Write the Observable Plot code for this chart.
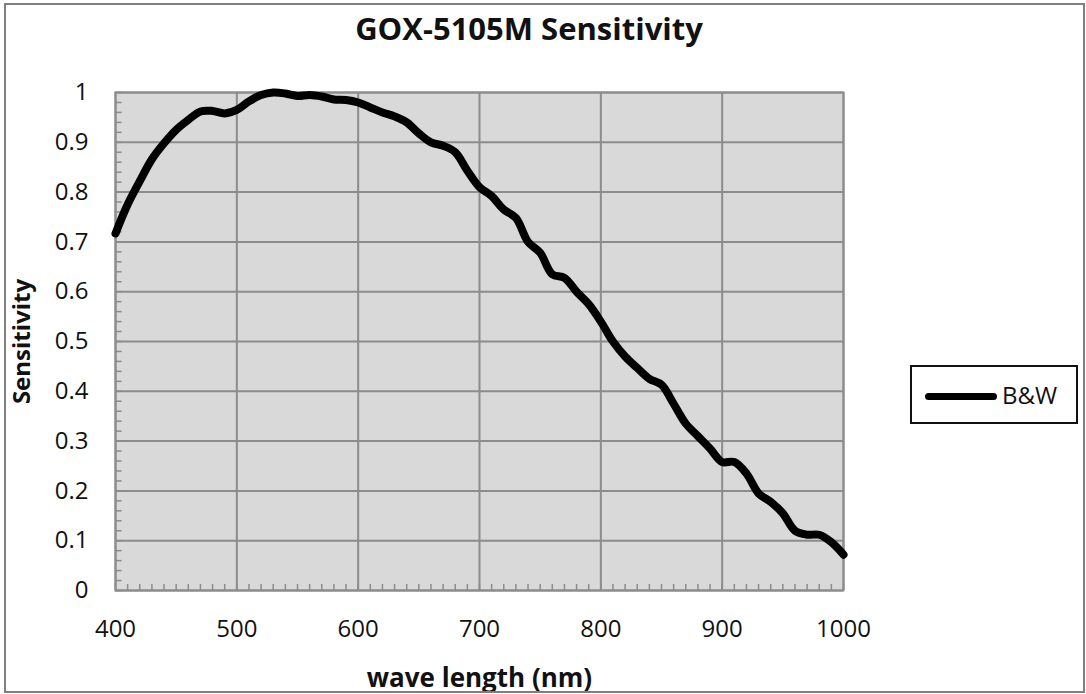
<!DOCTYPE html>
<html>
<head>
<meta charset="utf-8">
<script src="https://cdn.jsdelivr.net/npm/d3@7"></script>
<script src="https://cdn.jsdelivr.net/npm/@observablehq/plot@0.6"></script>
<style>
  html, body { margin: 0; padding: 0; background: #fff; }
  #wrap { position: relative; width: 1086px; height: 694px; overflow: hidden; font-family: "Open Sans", sans-serif; }
  #border { position: absolute; left: 4px; top: 3px; width: 1077px; height: 686px; border: 2px solid #7f7f7f; box-sizing: content-box; pointer-events: none; }
  #title { position: absolute; left: 0; width: 1058px; top: 7px; text-align: center; font-weight: bold; font-size: 31px; color: #111; }
  #legend { position: absolute; left: 910px; top: 365px; width: 168px; height: 59px; border: 2px solid #111; box-sizing: border-box; }
  #legend .sw { position: absolute; left: 13px; top: 26px; width: 72px; height: 7px; background: #000; border-radius: 3.5px; }
  #legend .lb { position: absolute; left: 90px; top: 11px; font-size: 24px; color: #111; }
  svg { position: absolute; left: 0; top: 0; }
</style>
</head>
<body>
<div id="wrap">
  <div id="title">GOX-5105M Sensitivity</div>
  <div id="chart"></div>
  <div id="legend"><div class="sw"></div><div class="lb">B&amp;W</div></div>
  <div id="border"></div>
</div>
<script>
const wavelength = [400,410,420,430,440,450,460,470,480,490,500,510,520,530,540,550,560,570,580,590,600,610,620,630,640,650,660,670,680,690,700,710,720,730,740,750,760,770,780,790,800,810,820,830,840,850,860,870,880,890,900,910,920,930,940,950,960,970,980,990,1000];
const sensitivity = [0.717,0.775,0.822,0.866,0.898,0.925,0.945,0.962,0.963,0.958,0.965,0.982,0.995,1.0,0.998,0.993,0.995,0.992,0.986,0.985,0.98,0.97,0.96,0.952,0.94,0.918,0.90,0.893,0.88,0.843,0.81,0.792,0.765,0.748,0.70,0.678,0.635,0.628,0.60,0.575,0.54,0.50,0.47,0.447,0.425,0.413,0.375,0.335,0.31,0.285,0.258,0.258,0.235,0.195,0.178,0.155,0.12,0.112,0.112,0.097,0.072];
const xTicks = [400,500,600,700,800,900,1000];
const yTicks = [0,0.1,0.2,0.3,0.4,0.5,0.6,0.7,0.8,0.9,1];
const xMinor = d3.range(400, 1001, 10);
const yMinor = d3.range(0, 51).map(i => i / 50);

const data = wavelength.map((w, i) => ({w, s: sensitivity[i]}));
const grid = "#8c8c8c";

const chart = Plot.plot({
  width: 1086,
  height: 694,
  marginLeft: 115,
  marginRight: 243,
  marginTop: 92,
  marginBottom: 104,
  style: {fontFamily: "Open Sans, sans-serif", fontSize: "24px", color: "#111", background: "transparent"},
  x: {domain: [400, 1000]},
  y: {domain: [0, 1]},
  marks: [
    Plot.frame({fill: "#d9d9d9", stroke: null}),
    Plot.ruleX(xTicks, {stroke: grid, strokeWidth: 2}),
    Plot.ruleY(yTicks, {stroke: grid, strokeWidth: 2}),
    Plot.ruleX(xMinor, {y1: 0, y2: 0.012, stroke: grid, strokeWidth: 1.5}),
    Plot.ruleY(yMinor, {x1: 400, x2: 405.5, stroke: grid, strokeWidth: 1.5}),
    Plot.frame({stroke: grid, strokeWidth: 2}),
    Plot.axisX(xTicks, {tickSize: 0, tickPadding: 29, label: null, fill: "#111", fontSize: 24, tickFormat: d => String(d)}),
    Plot.axisY(yTicks, {tickSize: 0, tickPadding: 27, label: null, fill: "#111", fontSize: 24, tickFormat: d => String(d)}),
    Plot.lineY(data, {x: "w", y: "s", stroke: "#000", strokeWidth: 8, curve: "catmull-rom", strokeLinejoin: "round", strokeLinecap: "round"}),
    Plot.text(["wave length (nm)"], {frameAnchor: "bottom", dy: 96, fontWeight: "bold", fontSize: 26, fill: "#111"}),
    Plot.text(["Sensitivity"], {frameAnchor: "left", textAnchor: "middle", dx: -93, rotate: -90, fontWeight: "bold", fontSize: 24, fill: "#111"})
  ]
});
document.getElementById("chart").appendChild(chart);
</script>
</body>
</html>
